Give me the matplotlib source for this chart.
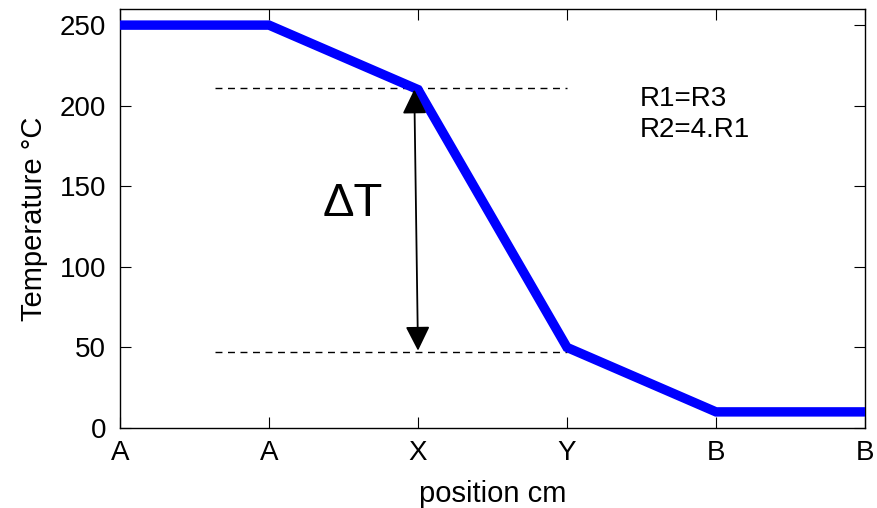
import matplotlib
matplotlib.use("Agg")
import matplotlib.pyplot as plt

positions = [0, 1, 2, 3, 4, 5]
tick_labels = ["A", "A", "X", "Y", "B", "B"]
temperature = [250, 250, 210, 50, 10, 10]
y_ticks = [0, 50, 100, 150, 200, 250]
dash_x = [0.64, 3.0]
dash_levels = [211, 47]
arrow_x = 2.0
arrow_range = [48, 210]
note_lines = ["R1=R3", "R2=4.R1"]
note_y = [204, 185]

plt.rcParams['font.family'] = ['Liberation Sans', 'DejaVu Sans']

fig = plt.figure(figsize=(8.78, 5.08), dpi=100)
ax = fig.add_axes([120/878, 1 - 428/508, (865-120)/878, (428-9)/508])

ax.plot(positions, temperature, color='#0000ff', lw=6.8, solid_joinstyle='miter', zorder=3)
for lvl in dash_levels:
    ax.plot(dash_x, [lvl, lvl], color='black', lw=1.0, ls=(0, (5, 4)), zorder=2)

ax.annotate('', xy=(arrow_x - 0.025, arrow_range[1]), xytext=(arrow_x, arrow_range[0]),
            arrowprops=dict(arrowstyle='<|-|>,head_length=0.5,head_width=0.25', color='black', lw=1.3,
                            mutation_scale=30, shrinkA=0, shrinkB=0), zorder=4)

ax.text(1.56, 139, 'ΔT', fontsize=34, ha='center', va='center')
for line, yy in zip(note_lines, note_y):
    ax.text(3.49, yy, line, fontsize=20, ha='left', va='center')

ax.set_xlim(0, 5)
ax.set_ylim(0, 260)
ax.set_xticks(positions)
ax.set_xticklabels(tick_labels)
ax.set_yticks(y_ticks)
ax.tick_params(direction='in', length=8, width=0.8, top=True, right=True,
               labelsize=20)
ax.tick_params(axis='x', pad=9)
ax.tick_params(axis='y', pad=10)
for s in ax.spines.values():
    s.set_linewidth(1.0)

ax.set_xlabel('position cm', fontsize=21, labelpad=10)
ax.set_ylabel('Temperature °C', fontsize=21, labelpad=8)

fig.savefig('out.png', dpi=100)
